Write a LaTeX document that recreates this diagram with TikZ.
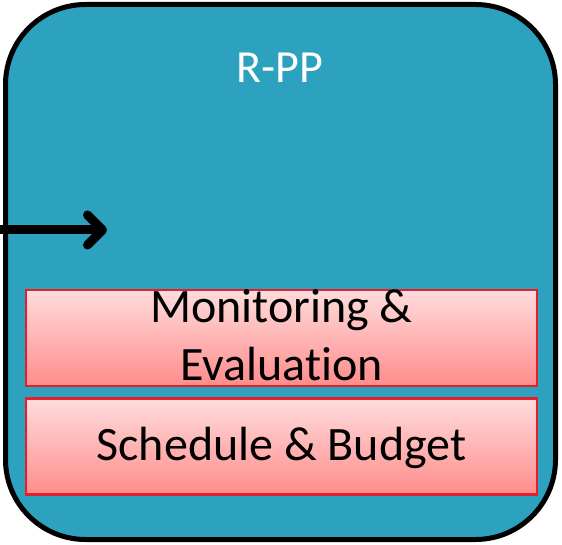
\documentclass[tikz,border=0pt]{standalone}
\usepackage{fontspec}
\setmainfont{Carlito}[Ligatures=NoCommon]
\usetikzlibrary{arrows.meta, positioning}
\definecolor{rppteal}{RGB}{44,162,190}
\definecolor{boxred}{RGB}{227,30,45}
\definecolor{pinktop}{RGB}{255,220,220}
\definecolor{pinkbot}{RGB}{255,140,140}

\begin{document}
\begin{tikzpicture}[x=1pt, y=-1pt,
    phase/.style={rectangle, draw=black, line width=5pt, fill=rppteal, rounded corners=80pt, minimum width=550pt, minimum height=535pt},
    task/.style={rectangle, draw=boxred, line width=2.5pt, top color=pinktop, bottom color=pinkbot, minimum width=511pt, minimum height=96pt},
    tasktext/.style={font=\fontsize{48}{58}\selectfont, align=center, anchor=base},
    line/.style={draw, line width=9pt, -{Straight Barb[length=15pt, width=30pt, round]}}
]
    \useasboundingbox (0,0) rectangle (562,545);
    % Phase
    \node [phase] (rpp) at (280.5,272) {};
    \node [text=white, font=\fontsize{46}{50}\selectfont, anchor=base] (rpptitle) at (280,83) {R-PP};

    % Tasks
    \node [task] (monitor) at (281.5,338) {};
    \node [task, below=10pt of monitor] (budget) {};
    \node [tasktext] (monitortext) at (281.5,380) {Monitoring \&\\Evaluation};
    \node [tasktext] (budgettext) at (281.5,460) {Schedule \& Budget};

    % Input
    \coordinate (in) at (0,230);
    \coordinate (inend) at (107,230);
    \path [line] (in) -- (inend);
\end{tikzpicture}
\end{document}
